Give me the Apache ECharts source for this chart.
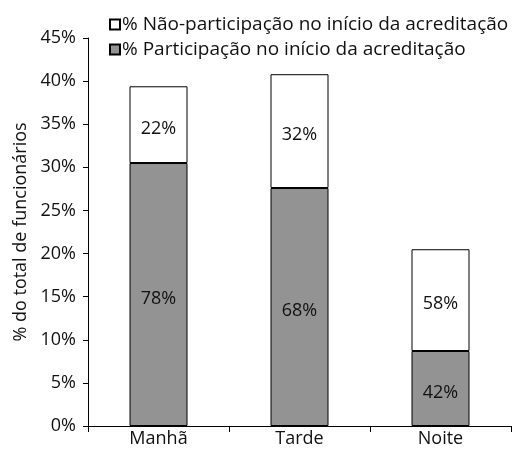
<!DOCTYPE html>
<html><head><meta charset="utf-8">
<script src="https://cdn.jsdelivr.net/npm/echarts@6/dist/echarts.min.js"></script>
<style>html,body{margin:0;padding:0;background:#fff}#c{width:515px;height:450px}</style>
</head><body><div id="c"></div>
<script>
const categories = ['Manhã', 'Tarde', 'Noite'];
const participacao = [30.5, 27.6, 8.7];
const naoParticipacao = [8.9, 13.2, 11.8];
const participacaoLabels = ['78%', '68%', '42%'];
const naoParticipacaoLabels = ['22%', '32%', '58%'];
const nameP = '% Participação no início da acreditação';
const nameN = '% Não-participação no início da acreditação';
const FONT = 'Open Sans';

const chart = echarts.init(document.getElementById('c'), null, {renderer: 'canvas'});
chart.setOption({
  animation: false,
  textStyle: {fontFamily: FONT, color: '#111'},
  grid: {left: 88, right: 4, top: 38, bottom: 24, containLabel: false},
  legend: {
    data: [nameN, nameP], orient: 'vertical', left: 104, top: 10,
    itemWidth: 10, itemHeight: 10, itemGap: 6,
    textStyle: {fontFamily: FONT, fontSize: 19, color: '#111', padding: [0,0,0,-3]},
    icon: 'rect'
  },
  xAxis: {
    type: 'category', data: categories,
    axisLine: {lineStyle: {color: '#000', width: 1}},
    axisTick: {show: true, length: 6, lineStyle: {color: '#000'}},
    axisLabel: {fontFamily: FONT, fontSize: 18, color: '#111', margin: 4}
  },
  yAxis: {
    type: 'value', min: 0, max: 45, interval: 5,
    name: '% do total de funcionários', nameLocation: 'middle', nameGap: 58,
    nameTextStyle: {fontFamily: FONT, fontSize: 18, color: '#111'},
    axisLine: {show: true, lineStyle: {color: '#000'}},
    axisTick: {show: true, length: 5, lineStyle: {color: '#000'}},
    splitLine: {show: false},
    axisLabel: {fontFamily: FONT, fontSize: 18, color: '#111', margin: 12, formatter: '{value}%'}
  },
  series: [
    {
      name: nameP, type: 'bar', stack: 'a', data: participacao, barWidth: 58,
      itemStyle: {color: '#939393', borderColor: '#000', borderWidth: 1},
      label: {show: true, position: 'inside', offset: [0, 4], fontFamily: FONT, fontSize: 18, color: '#111',
        formatter: p => participacaoLabels[p.dataIndex]}
    },
    {
      name: nameN, type: 'bar', stack: 'a', data: naoParticipacao, barWidth: 58,
      itemStyle: {color: '#fff', borderColor: '#000', borderWidth: 1},
      label: {show: true, position: 'inside', offset: [0, 4], fontFamily: FONT, fontSize: 18, color: '#111',
        formatter: p => naoParticipacaoLabels[p.dataIndex]}
    }
  ]
});
</script></body></html>
